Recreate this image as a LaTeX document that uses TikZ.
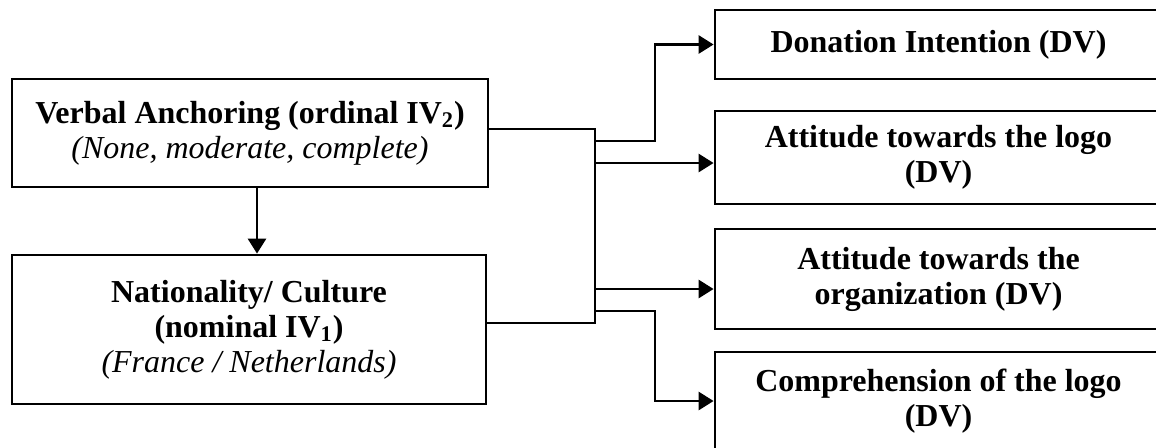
\documentclass[tikz,border=0pt]{standalone}
\usepackage{fontspec}
\setmainfont{Liberation Serif}
\usetikzlibrary{arrows.meta}
\usetikzlibrary{calc}
\tikzset{iv/.style={draw,line width=1.6pt,align=center,inner sep=0pt,font=\fontsize{18.2}{20}\selectfont}}
\tikzset{dv/.style={iv,font=\fontsize{18.2}{20}\selectfont\bfseries}}
\tikzset{arr/.style={-{Triangle[length=0.3cm,width=0.36cm]}}}

\begin{document}
\begin{tikzpicture}[line join=miter,line width=1.6pt]
            \useasboundingbox (0,0) rectangle (23.12,-8.94);
            \clip (0,0) rectangle (23.12,-8.94);
            % independent variables
            \node[iv,minimum width=9.52cm,minimum height=2.16cm] (A) at (5.00,-2.66)
              {\textbf{Verbal Anchoring (ordinal IV\textsubscript{2})}\\\textit{(None, moderate, complete)}};
            \node[iv,minimum width=9.48cm,minimum height=2.98cm] (B) at (4.98,-6.59)
              {\textbf{Nationality/ Culture}\\\textbf{(nominal IV\textsubscript{1})}\\\textit{(France / Netherlands)}};
            \draw[arr] ([xshift=0.14cm]A.south) -- ([xshift=0.14cm]A.south |- B.north);
            % dependent variables
            \node[dv,minimum width=8.94cm,minimum height=1.38cm] (D1) at (18.77,-0.89) {Donation Intention (DV)};
            \node[dv,minimum width=8.94cm,minimum height=1.86cm] (D2) at (18.77,-3.15) {Attitude towards the logo\\(DV)};
            \node[dv,minimum width=8.94cm,minimum height=2.00cm] (D3) at (18.77,-5.58) {Attitude towards the\\organization (DV)};
            \node[dv,minimum width=8.94cm,minimum height=1.96cm] (D4) at (18.77,-8.02) {Comprehension of the logo\\(DV)};
            % trunk
            \coordinate (tA) at (11.90,-2.58);
            \coordinate (tB) at (11.90,-6.46);
            \draw (A.east |- tA) -- (tA) -- (tB) -- (B.east |- tB);
            \coordinate (b1) at (11.90,-2.82);
            \coordinate (b2) at (11.90,-3.26);
            \coordinate (b3) at (11.90,-5.78);
            \coordinate (b4) at (11.90,-6.22);
            \draw[arr] (b1) -- ++(1.2,0) |- (D1.west);
            \draw[arr] (b2) -- (b2 -| D2.west);
            \draw[arr] (b3) -- (b3 -| D3.west);
            \draw[arr] (b4) -- ++(1.2,0) |- (D4.west);
\end{tikzpicture}
\end{document}
